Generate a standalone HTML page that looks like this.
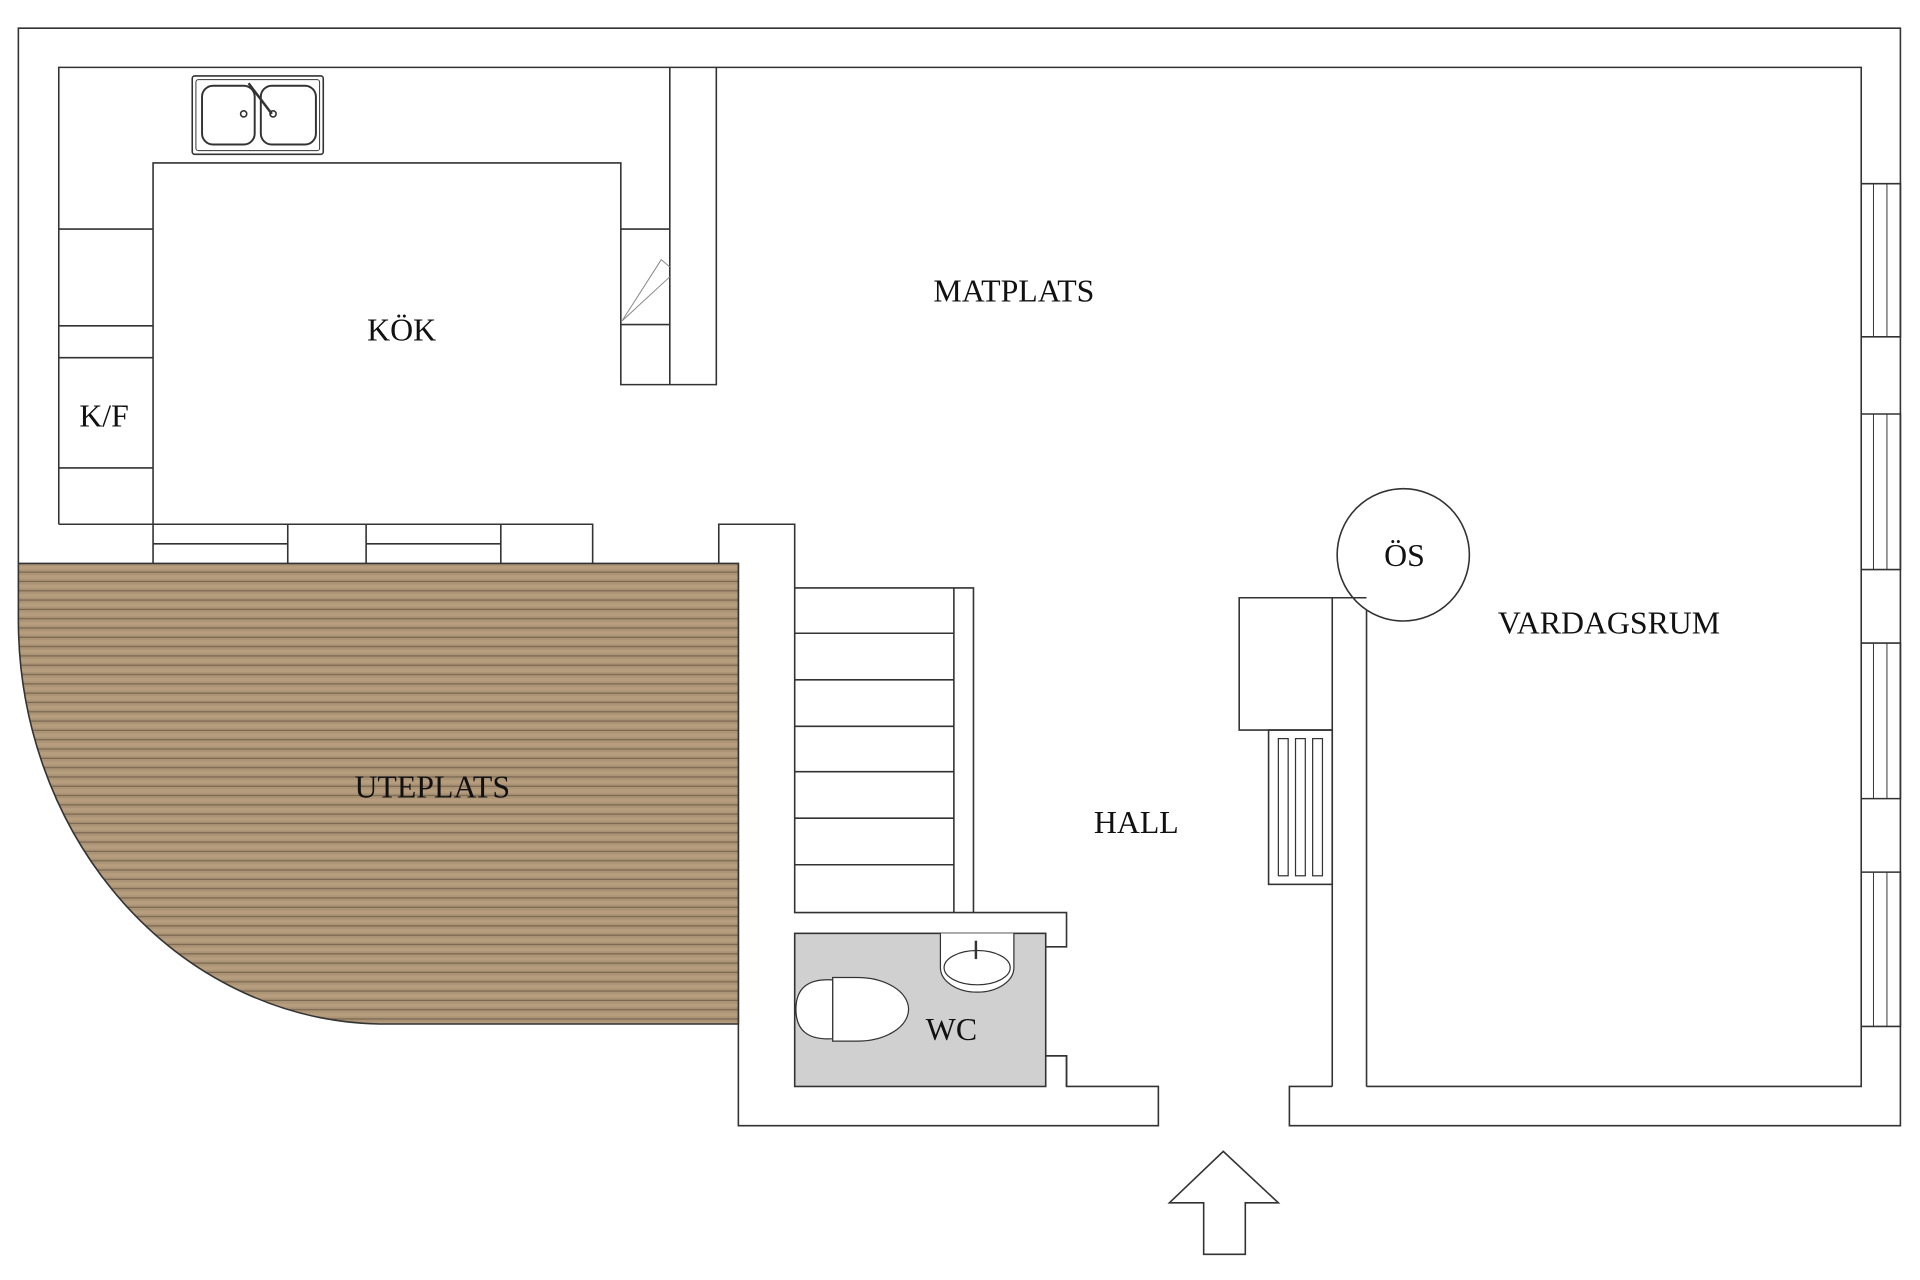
<!DOCTYPE html>
<html><head><meta charset="utf-8"><style>
html,body{margin:0;padding:0;background:#fff;}
svg{display:block;}
text{font-family:"Liberation Serif",serif;fill:#111;}
</style></head><body>
<svg width="1920" height="1280" viewBox="0 0 1568 1045" preserveAspectRatio="none">
<defs>
<pattern id="wood" x="0" y="460" width="40" height="7.6" patternUnits="userSpaceOnUse">
<rect width="40" height="7.6" fill="#ab9375"/>
<rect y="2" width="40" height="3" fill="#b59d7e"/>
<rect y="6.6" width="40" height="1" fill="#7a6750"/>
</pattern>
</defs>
<g fill="none" stroke="#333" stroke-width="1.3">
<path d="M15 460 V23 H1552 V919 H1053 V887 H1088"/>
<path d="M48 428 V55 H1520 V887 H1116"/>
<path d="M603 460 V919 H946 V887 H871 V862 H854"/>
<path d="M15 460 H603 V836 H310 A300 330 0 0 1 15 505 Z" fill="url(#wood)" stroke="#333"/>
<path d="M48 428 H125 V133 H507 V314 H585 V55"/>
<path d="M547 55 V314"/>
<path d="M507 187 H547 M507 265 H547"/>
<path d="M508 262 L540 212 L547 218 M508 262 L547 226" stroke="#888" stroke-width="0.8"/>
<path d="M48 187 H125 M48 266 H125 M48 292 H125 M48 382 H125"/>
<path d="M125 428 H484 V460 M125 428 V460 M235 428 V460 M299 428 V460 M409 428 V460 M125 444 H235 M299 444 H409"/>
<rect x="157" y="62" width="107" height="64" rx="2"/>
<rect x="160" y="65" width="101" height="58" rx="2" stroke-width="0.8"/>
<rect x="165" y="70" width="43" height="48" rx="9" stroke-width="1.6"/>
<rect x="213" y="70" width="45" height="48" rx="9" stroke-width="1.6"/>
<circle cx="199" cy="93" r="2.5"/><circle cx="223" cy="93" r="2.5"/>
<path d="M203 68 L222 93" stroke-width="2"/>
<path d="M587 460 V428 H649 V745 H871 V773 H854"/>
<path d="M649 480 H795 V745 M779 480 V745"/>
<path d="M649 517 H779 M649 555 H779 M649 593 H779 M649 630 H779 M649 668 H779 M649 706 H779"/>
<rect x="649" y="762" width="205" height="125" fill="#d0d0d0"/>
<path d="M854 862 H871 V887"/>
<path d="M768 762 V790 A30 20 0 0 0 828 790 V762" fill="#fff" stroke-width="1"/>
<ellipse cx="798" cy="790" rx="27" ry="14" fill="#fff" stroke-width="1"/>
<path d="M797 768 V783" stroke-width="2"/>
<path d="M680 798 H700 A42 26 0 0 1 700 850 H680 Z" fill="#fff" stroke-width="1"/>
<path d="M680 800 Q650 798 650 824 Q650 850 680 848 Z" fill="#fff" stroke-width="1"/>
<path d="M1088 887 V488 H1012 V596 H1088 M1116 887 V488 H1088"/>
<rect x="1036" y="596" width="52" height="126"/>
<rect x="1044" y="603" width="8" height="112" stroke-width="1"/>
<rect x="1058" y="603" width="8" height="112" stroke-width="1"/>
<rect x="1072" y="603" width="8" height="112" stroke-width="1"/>
<circle cx="1146" cy="453" r="54" fill="#fff"/>
<path d="M1088 488 H1116"/>
<path d="M1520 150 H1552 V275 H1520 M1520 338 H1552 V465 H1520 M1520 525 H1552 V652 H1520 M1520 712 H1552 V838 H1520"/>
<path d="M1530 150 V275 M1541 150 V275 M1530 338 V465 M1541 338 V465 M1530 525 V652 M1541 525 V652 M1530 712 V838 M1541 712 V838" stroke-width="0.8"/>
<path d="M955 982 L999 940 L1044 982 H1017 V1024 H983 V982 Z" fill="#fff"/>
</g>
<text x="328" y="278" font-size="26" text-anchor="middle">KÖK</text>
<text x="85" y="348" font-size="26" text-anchor="middle">K/F</text>
<text x="828" y="246" font-size="26" text-anchor="middle">MATPLATS</text>
<text x="1147" y="462" font-size="26" text-anchor="middle">ÖS</text>
<text x="1314" y="517" font-size="26" text-anchor="middle">VARDAGSRUM</text>
<text x="353" y="651" font-size="26" text-anchor="middle">UTEPLATS</text>
<text x="928" y="680" font-size="26" text-anchor="middle">HALL</text>
<text x="777" y="849" font-size="26" text-anchor="middle">WC</text>
</svg>
</body></html>
